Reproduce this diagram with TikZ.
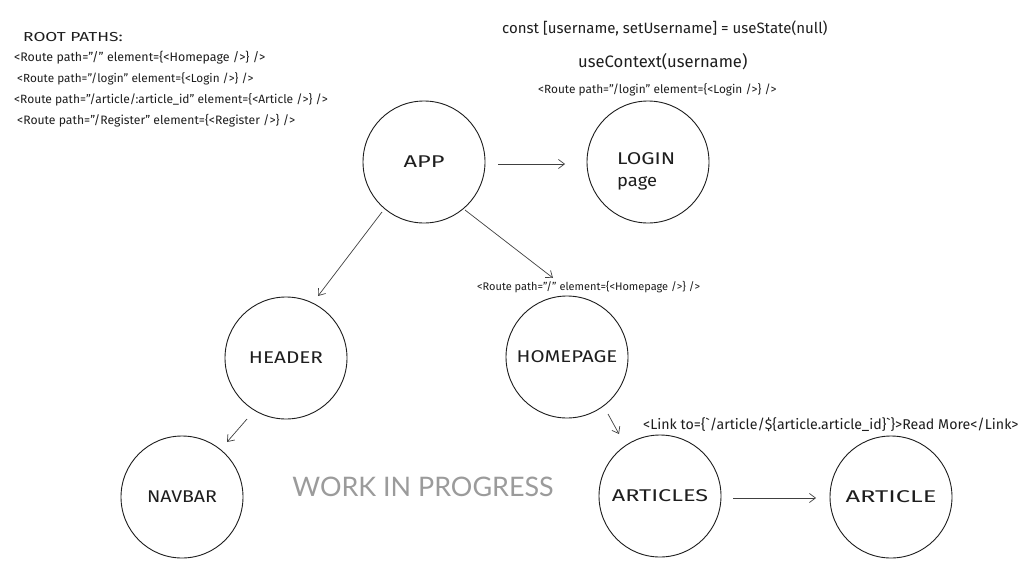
\documentclass[tikz,border=0pt]{standalone}
\usepackage{fontspec}
\setmainfont{Fira Sans}
\newfontfamily\wipfont{Lato}
\usetikzlibrary{arrows.meta,calc}
\definecolor{ink}{HTML}{1E1E1E}
\definecolor{wip}{HTML}{9B9B9B}
\newcommand{\fs}[1]{\fontsize{#1}{#1}\selectfont}
\newcommand{\hstretch}[2]{\scalebox{#1}[1]{#2}}
\begin{document}
\begin{tikzpicture}[x=1pt,y=1pt,
  circ/.style={circle,draw=ink,line width=0.9pt,minimum size=122pt,inner sep=0pt,font=\fs{17},text=ink},
  conn/.style={draw=ink!85,line width=0.7pt,-{Straight Barb[length=6pt,width=9pt]}},
  code/.style={text=ink,inner sep=0pt,anchor=west}
]
\useasboundingbox[fill=white] (0,0) rectangle (1035,-578);

% circles
\node[circ] (app) at (424,-162) {\hstretch{1.39}{APP}};
\node[circ] (login) at (648,-162) {};
\node[circ] (header) at (286,-358) {\hstretch{1.22}{HEADER}};
\node[circ] (homepage) at (567,-357) {\hstretch{1.2}{HOMEPAGE}};
\node[circ] (navbar) at (182,-497) {\hstretch{1.15}{NAVBAR}};
\node[circ] (articles) at (660,-496) {\hstretch{1.38}{ARTICLES}};
\node[circ] (article) at (891,-497) {\hstretch{1.5}{ARTICLE}};
\node[code,align=left,font=\fontsize{17}{22}\selectfont] (loginlbl) at (617,-171) {\hstretch{1.24}{LOGIN}\\\hstretch{1.08}{page}};

% texts
\node[code,font=\fs{13}] (roottitle) at (23,-37) {\hstretch{1.33}{ROOT PATHS:}};
\node[code,font=\fs{12.4}] (r1) at (14,-58) {<Route path="/" element=\{<Homepage />\} />};
\node[code,font=\fs{11.75}] (r2) at (17,-79) {<Route path="/login" element=\{<Login />\} />};
\node[code,font=\fs{12}] (r3) at (14,-100) {<Route path="/article/:article\_id" element=\{<Article />\} />};
\node[code,font=\fs{12.2}] (r4) at (17,-121) {<Route path="/Register" element=\{<Register />\} />};

\node[code,font=\fs{15}] (state) at (502,-28) {const [username, setUsername] = useState(null)};
\node[code,font=\fs{16.6}] (ctx) at (578,-62) {useContext(username)};
\node[code,font=\fs{11.85}] (loginroute) at (538,-90) {<Route path="/login" element=\{<Login />\} />};
\node[code,font=\fs{11}] (homeroute) at (477,-287) {<Route path="/" element=\{<Homepage />\} />};
\node[code,font=\fs{14.2}] (link) at (643,-425) {<Link to=\{\textasciigrave/article/\$\{article.article\_id\}\textasciigrave\}>Read More</Link>};

\node[text=wip,font=\wipfont\fs{26.9}] (wip) at (423,-487) {WORK IN PROGRESS};

% connectors
\draw[conn] ($(app)+(74,-2)$) -- ($(login)+(-83,-2)$);
\draw[conn] ($(app)+(-42,-50)$) -- ($(header)+(32,62)$);
\draw[conn] ($(app)+(41,-48)$) -- ($(homepage)+(-14,79)$);
\draw[conn] ($(header)+(-39,-61)$) -- ($(navbar)+(45,55)$);
\draw[conn] ($(homepage)+(41,-57)$) -- ($(articles)+(-41,62)$);
\draw[conn] ($(articles)+(73,-2)$) -- ($(article)+(-75,-1)$);
\end{tikzpicture}
\end{document}
